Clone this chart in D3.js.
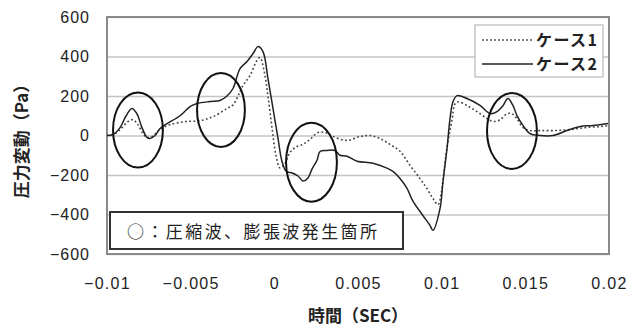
<!DOCTYPE html>
<html>
<head>
<meta charset="utf-8">
<script src="https://cdn.jsdelivr.net/npm/d3@7/dist/d3.min.js"></script>
<style>
  html, body { margin: 0; padding: 0; background: #fff; }
  svg { display: block; }
  text { font-family: "Liberation Sans", Arial, "Noto Sans CJK JP", sans-serif; fill: #222; }
  .jp { font-family: "Noto Sans CJK JP", sans-serif; }
</style>
</head>
<body>
<svg id="chart" width="640" height="326"></svg>
<script>
// Time axis (s) and pressure fluctuation (Pa) for each case
const case1Time = [-0.01, -0.00952, -0.0091, -0.00875, -0.00845, -0.00815, -0.00785, -0.00761, -0.00731,
  -0.00683, -0.00624, -0.00534, -0.00444, -0.00367, -0.00283, -0.00247, -0.00187, -0.00145, -0.00104,
  -0.00086, -0.00062, -0.00038, -0.00014, 0.0001, 0.00034, 0.00058, 0.00094, 0.00135, 0.00171, 0.00213,
  0.00261, 0.00303, 0.0035, 0.00434, 0.00512, 0.00572, 0.00631, 0.00691, 0.00751, 0.0081, 0.0087,
  0.00912, 0.00948, 0.00978, 0.00996, 0.01014, 0.01032, 0.01062, 0.0108, 0.01098, 0.01151, 0.01211,
  0.01271, 0.01307, 0.01349, 0.0139, 0.0142, 0.0145, 0.01486, 0.01528, 0.01588, 0.01677, 0.01767,
  0.01857, 0.01946, 0.01994];
const case1Pa = [0, 10, 40, 70, 80, 55, 10, -10, -5,
  30, 55, 70, 75, 95, 137, 155, 253, 304, 380,
  395, 330, 200, 40, -100, -165, -150, -85, -56, -45, -20,
  15, 15, -5, -25, -5, 0, -15, -45, -80, -150, -218,
  -268, -319, -350, -300, -180, -60, 80, 160, 170, 152, 121,
  86, 71, 80, 110, 110, 85, 40, 25, 25, 25, 30,
  40, 45, 50];

const case2Time = [-0.01, -0.00964, -0.00922, -0.00886, -0.00851, -0.00821, -0.00791, -0.00761, -0.00743,
  -0.00713, -0.00683, -0.00641, -0.00564, -0.00504, -0.00462, -0.00384, -0.00325, -0.00283, -0.00247,
  -0.00205, -0.00163, -0.00127, -0.00098, -0.00068, -0.00038, -0.00008, 0.00022, 0.00046, 0.0007,
  0.00106, 0.00141, 0.00171, 0.00201, 0.00225, 0.00255, 0.00273, 0.00315, 0.00363, 0.00392, 0.00434,
  0.00494, 0.0059, 0.00673, 0.00709, 0.00751, 0.00793, 0.00829, 0.00888, 0.0093, 0.00948, 0.0099,
  0.01008, 0.01032, 0.0105, 0.01068, 0.01092, 0.01151, 0.01229, 0.01289, 0.01331, 0.01367, 0.01396,
  0.01426, 0.0145, 0.01486, 0.01528, 0.01588, 0.01665, 0.01749, 0.01827, 0.01904, 0.01994];
const case2Pa = [0, 5, 40, 100, 137, 110, 40, -10, -15,
  0, 35, 60, 100, 146, 162, 172, 177, 200, 238,
  339, 375, 415, 450, 425, 288, 137, -15, -132, -180,
  -190, -205, -230, -215, -170, -125, -81, -76, -76, -100, -105,
  -130, -140, -165, -182, -218, -268, -334, -405, -455, -480, -370,
  -233, -66, 86, 172, 202, 187, 152, 111, 121, 152, 187,
  152, 101, 51, 10, 0, 0, 25, 46, 51, 61];

const xTicks = [-0.01, -0.005, 0, 0.005, 0.01, 0.015, 0.02];
const xTickLabels = ["\u22120.01", "\u22120.005", "0", "0.005", "0.01", "0.015", "0.02"];
const yTicks = [600, 400, 200, 0, -200, -400, -600];
const yTickLabels = ["600", "400", "200", "0", "\u2212200", "\u2212400", "\u2212600"];

const seriesNames = ["ケース1", "ケース2"];
const xTitle = "時間（SEC）";
const yTitle = "圧力変動（Pa）";
const noteText = "○：圧縮波、膨張波発生箇所";

// Marked wave regions: centre time, centre pressure, half-width (s), half-height (Pa)
const markTime = [-0.00815, -0.00319, 0.00222, 0.0142];
const markPa = [28, 129, -135, 23];
const markHalfTime = [0.00149, 0.00143, 0.00152, 0.00149];
const markHalfPa = [190, 187, 200, 192];

const svg = d3.select("#chart");
const plotLeft = 107, plotRight = 609, plotTop = 17, plotBottom = 254;

const x = d3.scaleLinear().domain([-0.01, 0.02]).range([plotLeft, plotRight]);
const y = d3.scaleLinear().domain([-600, 600]).range([plotBottom, plotTop]);

// grid lines and y tick labels
const yAxis = d3.axisLeft(y).tickValues(yTicks)
  .tickSize(-(plotRight - plotLeft)).tickPadding(17)
  .tickFormat((d, i) => yTickLabels[i]);
const gy = svg.append("g").attr("transform", `translate(${plotLeft},0)`).call(yAxis);
gy.select(".domain").remove();
gy.selectAll(".tick line").attr("stroke", "#c4c4c4").attr("stroke-width", 1.3);
gy.selectAll(".tick text").attr("font-size", 16).attr("letter-spacing", 1).attr("fill", "#222");

const xAxis = d3.axisBottom(x).tickValues(xTicks).tickSize(0).tickPadding(24)
  .tickFormat((d, i) => xTickLabels[i]);
const gx = svg.append("g").attr("transform", `translate(0,${plotBottom})`).call(xAxis);
gx.select(".domain").remove();
gx.selectAll(".tick text").attr("font-size", 16).attr("letter-spacing", 1.3).attr("fill", "#222");

// plot frame
svg.append("rect")
  .attr("x", plotLeft).attr("y", plotTop)
  .attr("width", plotRight - plotLeft).attr("height", plotBottom - plotTop)
  .attr("fill", "none").attr("stroke", "#8a8a8a").attr("stroke-width", 2);

// series lines
const line = d3.line().x(d => x(d[0])).y(d => y(d[1])).curve(d3.curveCatmullRom.alpha(0.5));
const case1 = case1Time.map((t, i) => [t, case1Pa[i]]);
const case2 = case2Time.map((t, i) => [t, case2Pa[i]]);

svg.append("path").datum(case1).attr("d", line)
  .attr("fill", "none").attr("stroke", "#444").attr("stroke-width", 1.6)
  .attr("stroke-dasharray", "1.8,2.4");
svg.append("path").datum(case2).attr("d", line)
  .attr("fill", "none").attr("stroke", "#222").attr("stroke-width", 1.5);

// wave-region ellipses
markTime.forEach((t, i) => {
  const cx = x(t), cy = y(markPa[i]);
  const rx = x(t + markHalfTime[i]) - cx;
  const ry = cy - y(markPa[i] + markHalfPa[i]);
  svg.append("ellipse").attr("cx", cx).attr("cy", cy).attr("rx", rx).attr("ry", ry)
    .attr("fill", "none").attr("stroke", "#111").attr("stroke-width", 2);
});

// legend
const lg = svg.append("g");
lg.append("rect").attr("x", 475).attr("y", 25).attr("width", 128).attr("height", 52)
  .attr("fill", "#fff").attr("stroke", "#b8b8b8").attr("stroke-width", 1.2);
lg.append("line").attr("x1", 482).attr("x2", 533).attr("y1", 40).attr("y2", 40)
  .attr("stroke", "#555").attr("stroke-width", 1.4).attr("stroke-dasharray", "2,2");
lg.append("line").attr("x1", 482).attr("x2", 533).attr("y1", 64).attr("y2", 64)
  .attr("stroke", "#222").attr("stroke-width", 1.4);
lg.append("text").attr("class", "jp").attr("x", 536).attr("y", 40).attr("dy", "0.36em")
  .attr("font-size", 16).attr("font-weight", "bold").attr("textLength", 61).text(seriesNames[0]);
lg.append("text").attr("class", "jp").attr("x", 536).attr("y", 64).attr("dy", "0.36em")
  .attr("font-size", 16).attr("font-weight", "bold").attr("textLength", 61).text(seriesNames[1]);

// annotation box
svg.append("rect").attr("x", 110).attr("y", 212).attr("width", 293).attr("height", 37)
  .attr("fill", "#fff").attr("stroke", "#333").attr("stroke-width", 2);
svg.append("text").attr("class", "jp").attr("x", 127).attr("y", 232).attr("dy", "0.36em")
  .attr("font-size", 17).attr("fill", "#333").attr("textLength", 250).text(noteText);

// axis titles
svg.append("text").attr("class", "jp").attr("x", (plotLeft + plotRight) / 2).attr("y", 316)
  .attr("text-anchor", "middle").attr("dy", "0.36em").attr("font-size", 17).attr("font-weight", "bold")
  .text(xTitle);
svg.append("text").attr("class", "jp")
  .attr("transform", "translate(22,137) rotate(-90)")
  .attr("text-anchor", "middle").attr("dy", "0.36em").attr("font-size", 17).attr("font-weight", "bold")
  .text(yTitle);
</script>
</body>
</html>
